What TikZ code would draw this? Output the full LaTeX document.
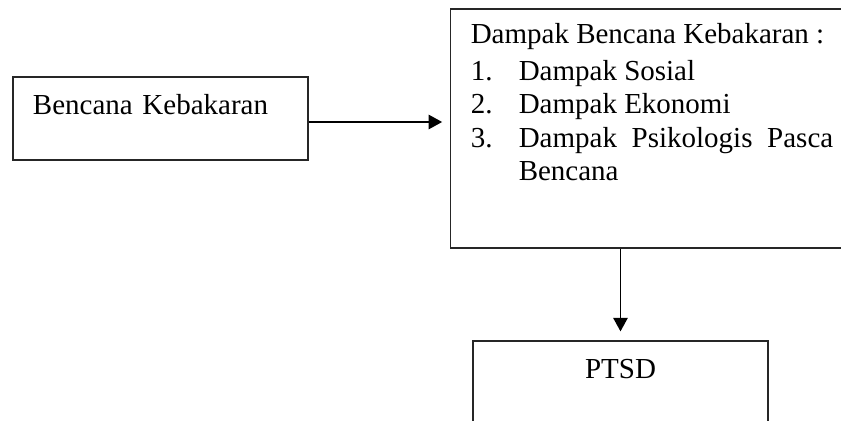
\documentclass[tikz,border=0pt]{standalone}
\usepackage{fontspec}
\setmainfont{Liberation Serif}
\usepackage{tikz}
\usetikzlibrary{arrows.meta, positioning, calc}

\newcommand{\numitem}[1]{\makebox[19.2pt][l]{#1}}

\begin{document}
\begin{tikzpicture}[
    font=\fontsize{11.6pt}{13.3pt}\selectfont,
    box/.style={rectangle, draw=black!85, line width=0.5pt, inner xsep=8pt, inner ysep=0pt, text width=102pt, text height=15.2pt, text depth=18pt},
    panel/.style={rectangle, draw=black!85, line width=0.5pt, inner xsep=8pt, inner ysep=0pt, text width=145pt, align=justify, text height=14pt, text depth=81.6pt},
    flow/.style={-{Triangle[length=5.4pt, width=5.8pt]}, line width=0.5pt, black},
]

% Frame
\useasboundingbox (0,0) rectangle (11.823,-5.918);

% Cause
\node[box, align=left] (bencana) at (2.256,-1.666) {Bencana Kebakaran};

% Effects
\node[panel] (dampak) at (9.166,-1.8065) {Dampak Bencana Kebakaran :\par\vspace{1.4pt}
\numitem{1.}Dampak Sosial\par
\numitem{2.}Dampak Ekonomi\par
\hangindent=19.2pt\hangafter=1 \numitem{3.}Dampak Psikologis Pasca Bencana\par};

% Result
\node[box, align=center] (ptsd) at (8.723,-5.377) {PTSD};

% Edges
\draw[flow, shorten >=3.2pt] ([yshift=-1.4pt]bencana.east) -- ([yshift=-1.4pt]bencana.east -| dampak.west);
\draw[flow, shorten >=3.6pt] (ptsd.north |- dampak.south) -- (ptsd.north);

\end{tikzpicture}
\end{document}
